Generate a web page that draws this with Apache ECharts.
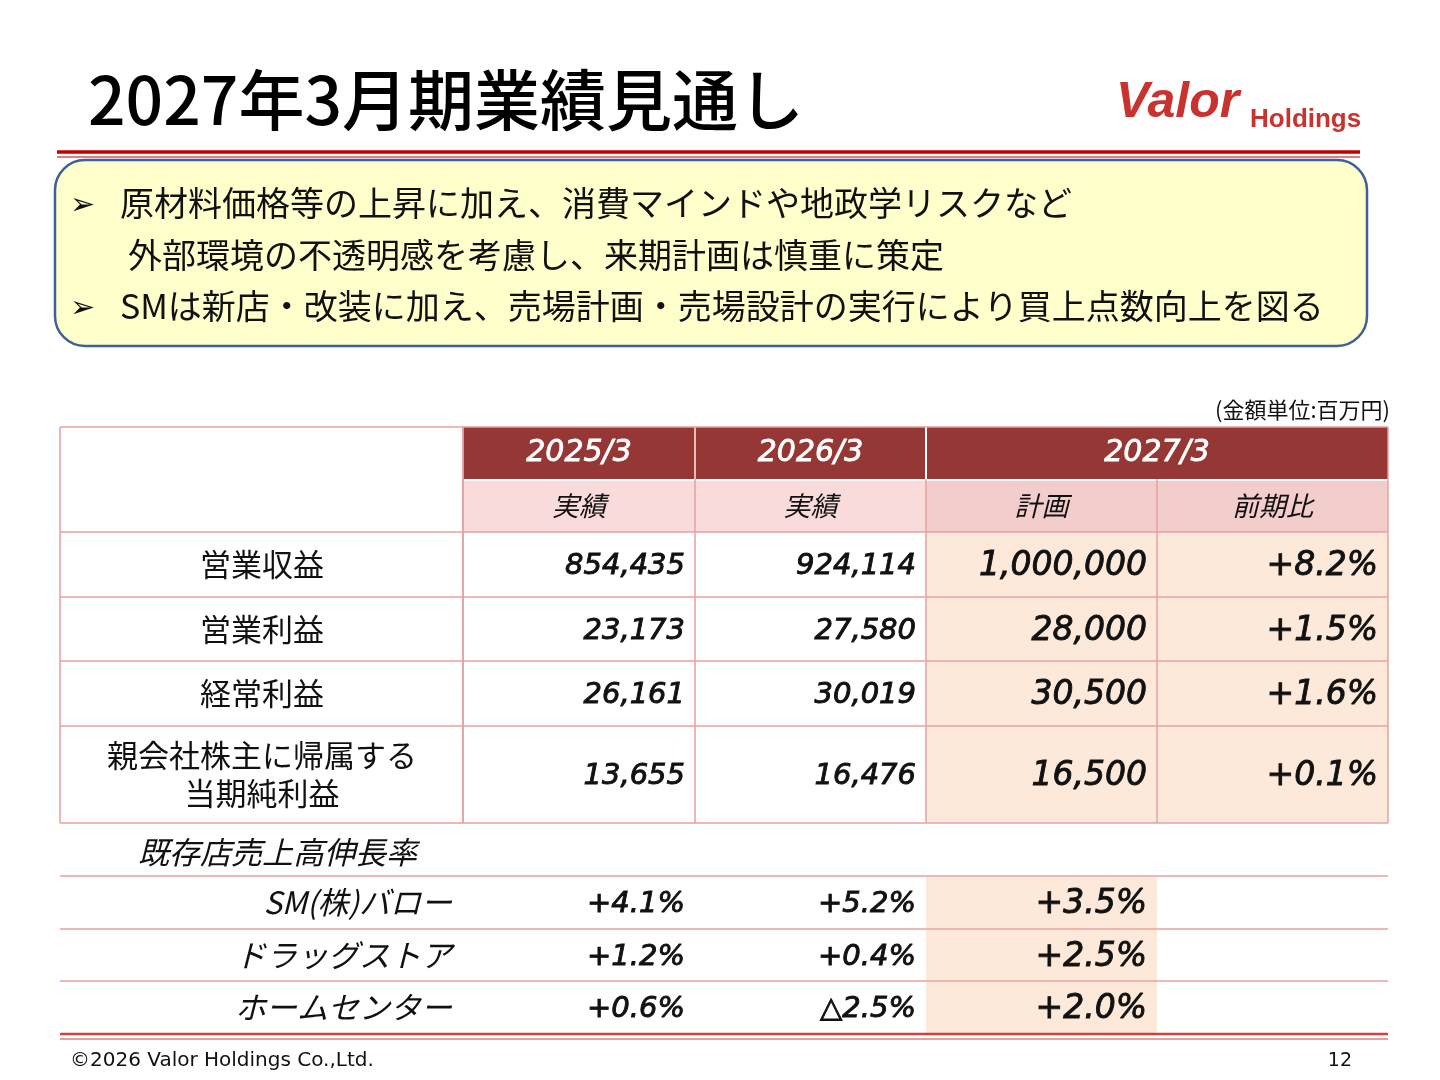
<!DOCTYPE html>
<html><head><meta charset="utf-8">
<script src="https://cdn.jsdelivr.net/npm/echarts@6/dist/echarts.min.js"></script>
<style>html,body{margin:0;background:#fff}#c{width:1440px;height:1080px}</style></head>
<body><div id="c"></div>
<script>
const title = '2027年3月期業績見通し';
const bullets = ['原材料価格等の上昇に加え、消費マインドや地政学リスクなど', '外部環境の不透明感を考慮し、来期計画は慎重に策定', 'SMは新店・改装に加え、売場計画・売場設計の実行により買上点数向上を図る'];
const years = ['2025/3', '2026/3', '2027/3'];
const subHeads = ['実績', '実績', '計画', '前期比'];
const rowLabels = ['営業収益', '営業利益', '経常利益', '親会社株主に帰属する\n当期純利益'];
const actual2025 = ['854,435', '23,173', '26,161', '13,655'];
const actual2026 = ['924,114', '27,580', '30,019', '16,476'];
const plan2027 = ['1,000,000', '28,000', '30,500', '16,500'];
const yoy = ['+8.2%', '+1.5%', '+1.6%', '+0.1%'];
const sssTitle = '既存店売上高伸長率';
const sssLabels = ['SM(株)バロー', 'ドラッグストア', 'ホームセンター'];
const sss2025 = ['+4.1%', '+1.2%', '+0.6%'];
const sss2026 = ['+5.2%', '+0.4%', '△2.5%'];
const sss2027 = ['+3.5%', '+2.5%', '+2.0%'];

const F = '"Noto Sans CJK JP","Noto Sans",sans-serif';
const N = '"DejaVu Sans","Noto Sans CJK JP",sans-serif';
const RED = '#953735', BORDER = '#e6a0a0';
const cols = [60, 463, 695, 926, 1157, 1388];
const rowsY = [532, 597, 661, 726, 823];
const lowY = [823, 876, 929, 981, 1034];
const g = [];
const rect = (x, y, w, h, fill, z) => g.push({type:'rect', shape:{x, y, width:w, height:h}, style:{fill}, z:z||1});
const line = (x1, y1, x2, y2, stroke, w) => g.push({type:'line', shape:{x1, y1, x2, y2}, style:{stroke, lineWidth:w||1.5}, z:5});
const text = (x, y, t, size, opt) => g.push({type:'text', x, y, style:Object.assign({text:t, font:`${size}px ${F}`, fill:'#111', align:'left', verticalAlign:'middle'}, opt||{}), z:10});
const num = (x, y, t, size) => text(x, y, t, size, {align:'right', font:`oblique ${size}px ${N}`, stroke:'#111', lineWidth:0.9});

text(88, 100, title, 66, {font:`500 66px ${F}`, fill:'#000'});
text(1116, 103, 'Valor', 50, {font:`italic bold 50px "Liberation Sans",sans-serif`, fill:'#c8322f'});
text(1250, 120, 'Holdings', 26, {font:`bold 26px "Liberation Sans",sans-serif`, fill:'#c8322f'});
line(57, 152, 1360, 152, '#c00000', 3.5);
line(57, 157, 1360, 157, '#c00000', 1.2);
g.push({type:'rect', shape:{x:55, y:160, width:1312, height:186, r:30}, style:{fill:'#ffffcc', stroke:'#41609a', lineWidth:2.5}, z:2});
text(70, 203, '➢', 30); text(120, 203, bullets[0], 34);
text(128, 255, bullets[1], 34);
text(70, 306, '➢', 30); text(120, 306, bullets[2], 34);
text(1390, 410, '(金額単位:百万円)', 22, {align:'right'});

rect(463, 427, 925, 52, RED);
[[463,695],[695,926],[926,1388]].forEach((c, i) => text((c[0]+c[1])/2, 453, years[i], 30, {align:'center', fill:'#fff', font:`oblique 30px ${N}`, stroke:'#fff', lineWidth:0.8}));
line(695, 427, 695, 479, '#fff', 2); line(926, 427, 926, 479, '#fff', 2);
for (let i = 0; i < 4; i++) {
  rect(cols[i+1], 479, cols[i+2]-cols[i+1], 53, i < 2 ? '#fadbdb' : '#f3cccc');
  text((cols[i+1]+cols[i+2])/2, 506, subHeads[i], 27, {align:'center', font:`italic 27px ${F}`});
}
line(463, 480, 1388, 480, '#fff', 2);
for (let r = 0; r < 4; r++) {
  const y0 = rowsY[r], y1 = rowsY[r+1], ym = (y0+y1)/2;
  rect(926, y0, 462, y1-y0, '#fde9d9');
  text(262, ym, rowLabels[r], 31, {align:'center', lineHeight:38});
  const vals = [actual2025[r], actual2026[r], plan2027[r], yoy[r]];
  vals.forEach((v, i) => num(cols[i+2]-10, ym+2, v, i >= 2 ? 33 : 29));
}
[427, ...rowsY].forEach(y => line(60, y, 1388, y, BORDER, 1.5));
line(60, 427, 60, 823, BORDER, 1.5); line(1388, 427, 1388, 823, BORDER, 1.5);
cols.slice(1, 5).forEach((x, i) => line(x, i >= 2 ? 479 : 427, x, 823, BORDER, 1.5));
line(463, 427, 463, 823, BORDER, 1.5);
text(138, 852, sssTitle, 31, {font:`italic 31px ${F}`});
for (let r = 0; r < 3; r++) {
  const y0 = lowY[r+1], y1 = lowY[r+2], ym = (y0+y1)/2;
  rect(926, y0+1, 231, y1-y0-1, '#fde9d9');
  text(452, ym, sssLabels[r], 31, {align:'right', font:`italic 31px ${F}`});
  [sss2025[r], sss2026[r], sss2027[r]].forEach((v, i) => num(cols[i+2]-10, ym+2, v, i === 2 ? 33 : 29));
}
lowY.slice(1, 4).forEach(y => line(60, y, 1388, y, BORDER, 1.5));
line(60, 1034, 1388, 1034, '#d04040', 2.5);
line(60, 1039, 1388, 1039, '#d04040', 1.2);
text(70, 1061, '©2026 Valor Holdings Co.,Ltd.', 20, {font:`20px ${N}`});
text(1352, 1061, '12', 19, {align:'right', font:`19px ${N}`});

const chart = echarts.init(document.getElementById('c'));
chart.setOption({animation:false, graphic:{elements:g}});
</script></body></html>
